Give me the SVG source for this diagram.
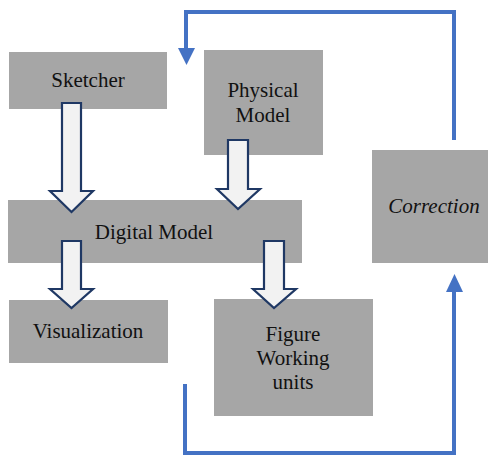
<svg xmlns="http://www.w3.org/2000/svg" width="490" height="457" viewBox="0 0 490 457">
<style>
.box{fill:#a6a6a6}
text{font-family:'Liberation Serif','DejaVu Serif',serif;font-size:21px;fill:#111;text-anchor:middle}
.it{font-style:italic}
.fat{fill:#f2f2f2;stroke:#1f3864;stroke-width:2.2;stroke-linejoin:miter}
.blue{fill:none;stroke:#4472c4;stroke-width:4}
.bh{fill:#4472c4}
</style>
<rect width="490" height="457" fill="#fff"/>
<g id="sketcher"><rect class="box" x="9" y="52" width="158" height="57"/><text x="88" y="87">Sketcher</text></g>
<g id="physical"><rect class="box" x="204" y="50" width="119" height="105"/><text x="263" y="97">Physical</text><text x="263" y="122">Model</text></g>
<g id="correction"><rect class="box" x="372" y="150" width="116" height="113"/><text class="it" x="434" y="213">Correction</text></g>
<g id="digital"><rect class="box" x="8" y="200" width="294" height="63"/><text x="154" y="239">Digital Model</text></g>
<g id="visualization"><rect class="box" x="9" y="300" width="159" height="63"/><text x="88" y="338">Visualization</text></g>
<g id="figure"><rect class="box" x="214" y="299" width="159" height="117"/><text x="293" y="341">Figure</text><text x="293" y="365">Working</text><text x="293" y="389">units</text></g>
<g id="connectors">
<path class="fat" d="M62,103 H81 V191 H93 L71.5,212 L50,191 H62 Z"/>
<path class="fat" d="M228,140 H248 V189 H260 L238,209 L217,189 H228 Z"/>
<path class="fat" d="M62,241 H81 V289 H93 L71.5,308 L50,289 H62 Z"/>
<path class="fat" d="M264,241 H284 V289 H296 L274,308 L253,289 H264 Z"/>
<path class="blue" d="M454,140 V12 H186 V50"/>
<path class="bh" d="M178,48 H195 L186.5,65 Z"/>
<path class="blue" d="M185,384 V453 H454 V290"/>
<path class="bh" d="M446,292 H463 L454.5,274 Z"/>
</g>
</svg>
